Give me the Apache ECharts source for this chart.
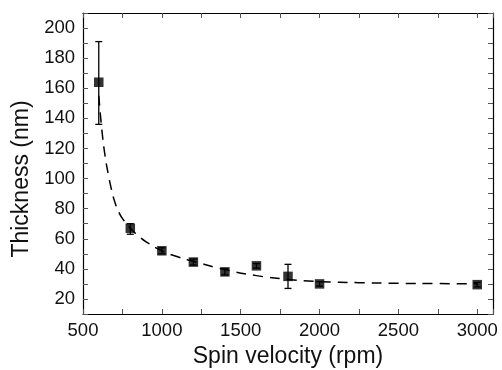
<!DOCTYPE html>
<html><head><meta charset="utf-8">
<script src="https://cdn.jsdelivr.net/npm/echarts@6/dist/echarts.min.js"></script>
<style>html,body{margin:0;padding:0;background:#fff}#c{width:502px;height:370px}</style>
</head><body><div id="c"></div>
<script>
// measured data
const spinRpm = [600, 800, 1000, 1200, 1400, 1600, 1800, 2000, 3000];
const thickness = [164, 67, 52, 44.5, 38, 42, 35, 30, 29.5];
const errLow = [28, 4, 2, 2, 2, 1.5, 8, 1.5, 1.5];
const errHigh = [27, 3, 2, 2, 2, 1.5, 8, 1.5, 1.5];
// dashed fit curve
const fitRpm = [600, 620, 640, 660, 680, 700, 730, 760, 800, 850, 900, 1000, 1100, 1200, 1400, 1600, 1800, 2000, 2250, 2500, 2750, 3000];
const fitThk = [155, 132, 115, 103, 93, 85, 77, 72, 67, 62, 58, 52, 48, 45, 39.5, 35.5, 33, 31.5, 30.8, 30.4, 30.2, 30];
const xTickLabels = [500, 1000, 1500, 2000, 2500, 3000];
const yTickLabels = [20, 40, 60, 80, 100, 120, 140, 160, 180, 200];
const xTitle = 'Spin velocity (rpm)';
const yTitle = 'Thickness (nm)';

const font = 'Liberation Sans, Arial, sans-serif';
const chart = echarts.init(document.getElementById('c'));
const tickStyle = {show: true, inside: true, length: 5, lineStyle: {color: '#555', width: 1}};
const axisLine = {show: true, onZero: false, lineStyle: {color: '#000', width: 1.2}};
chart.setOption({
  animation: false,
  grid: {left: 83, right: 9, top: 13, bottom: 56},
  graphic: [
    {type: 'text', x: 22, y: 179, rotation: Math.PI / 2,
      style: {text: yTitle, font: '23px ' + font, fill: '#111', align: 'center', verticalAlign: 'middle'}},
    {type: 'text', x: 288, y: 357,
      style: {text: xTitle, font: '23px ' + font, fill: '#111', align: 'center', verticalAlign: 'middle'}}
  ],
  xAxis: [{
    type: 'value', min: 500, max: 3100, interval: 250,
    axisLine, axisTick: tickStyle, splitLine: {show: false},
    axisLabel: {fontFamily: font, fontSize: 18.5, color: '#111', margin: 7,
      formatter: v => xTickLabels.includes(v) ? String(v) : ''}
  }, {
    type: 'value', position: 'top', min: 500, max: 3100, interval: 250,
    axisLine, axisTick: tickStyle, axisLabel: {show: false}, splitLine: {show: false}
  }],
  yAxis: [{
    type: 'value', min: 10, max: 210, interval: 10,
    axisLine, axisTick: tickStyle, splitLine: {show: false},
    axisLabel: {fontFamily: font, fontSize: 18.5, color: '#111', margin: 8,
      formatter: v => yTickLabels.includes(v) ? String(v) : ''}
  }, {
    type: 'value', position: 'right', min: 10, max: 210, interval: 10,
    axisLine, axisTick: tickStyle, axisLabel: {show: false}, splitLine: {show: false}
  }],
  series: [{
    type: 'line', data: fitRpm.map((x, i) => [x, fitThk[i]]), smooth: true,
    showSymbol: false, lineStyle: {color: '#000', width: 1.5, type: [10, 7]}, z: 1
  }, {
    type: 'custom', z: 2,
    data: spinRpm.map((x, i) => [x, thickness[i] - errLow[i], thickness[i] + errHigh[i]]),
    renderItem: (params, api) => {
      const lo = api.coord([api.value(0), api.value(1)]);
      const hi = api.coord([api.value(0), api.value(2)]);
      const w = 3.5;
      const st = {stroke: '#000', lineWidth: 1.3};
      return {type: 'group', children: [
        {type: 'line', shape: {x1: lo[0], y1: lo[1], x2: hi[0], y2: hi[1]}, style: st},
        {type: 'line', shape: {x1: lo[0]-w, y1: lo[1], x2: lo[0]+w, y2: lo[1]}, style: st},
        {type: 'line', shape: {x1: hi[0]-w, y1: hi[1], x2: hi[0]+w, y2: hi[1]}, style: st}
      ]};
    }
  }, {
    type: 'scatter', data: spinRpm.map((x, i) => [x, thickness[i]]),
    symbol: 'rect', symbolSize: 9.5, itemStyle: {color: '#000'}, z: 3
  }]
});
</script></body></html>
